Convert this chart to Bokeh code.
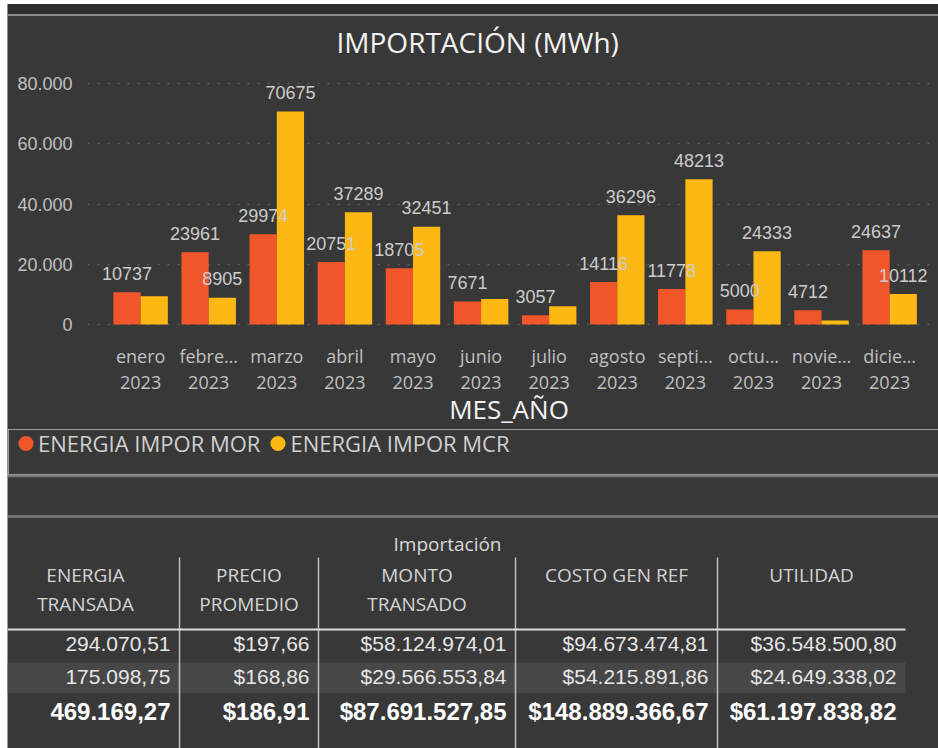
import numpy as np
from bokeh.plotting import figure
from bokeh.models import Range1d, FixedTicker, Legend, LegendItem, ColumnDataSource, Spacer
from bokeh.layouts import column, row
from bokeh.transform import dodge
from bokeh.core.properties import value
from bokeh.embed import file_html
from bokeh.resources import INLINE

# ---------------- data ----------------
months = ["enero", "febre\u2026", "marzo", "abril", "mayo", "junio", "julio",
          "agosto", "septi\u2026", "octu\u2026", "novie\u2026", "dicie\u2026"]
year = "2023"
mor = [10737, 23961, 29974, 20751, 18705, 7671, 3057, 14116, 11778, 5000, 4712, 24637]
mcr = [9400, 8905, 70675, 37289, 32451, 8500, 6050, 36296, 48213, 24333, 1300, 10112]
mor_label_shown = [True, True, True, True, True, True, True, True, True, True, True, True]
mcr_label_shown = [False, True, True, True, True, False, False, True, True, True, False, True]
y_ticks = [0, 20000, 40000, 60000, 80000]
y_tick_labels = ["0", "20.000", "40.000", "60.000", "80.000"]
series_names = ["ENERGIA IMPOR MOR", "ENERGIA IMPOR MCR"]
chart_title = "IMPORTACI\u00d3N (MWh)"
x_title = "MES_A\u00d1O"

table_group = "Importaci\u00f3n"
table_headers = ["ENERGIA\nTRANSADA", "PRECIO\nPROMEDIO", "MONTO\nTRANSADO", "COSTO GEN REF", "UTILIDAD"]
row1 = ["294.070,51", "$197,66", "$58.124.974,01", "$94.673.474,81", "$36.548.500,80"]
row2 = ["175.098,75", "$168,86", "$29.566.553,84", "$54.215.891,86", "$24.649.338,02"]
totals = ["469.169,27", "$186,91", "$87.691.527,85", "$148.889.366,67", "$61.197.838,82"]

# ---------------- style ----------------
BG = "#383838"
DARK = "#2d2d2d"
EDGE = "#8a8a8a"
C_MOR = "#F0562A"
C_MCR = "#FDB813"
PW = 930          # chart / legend width (x 8..938)
H1 = 425          # chart height (y 4..429)
HL = 45           # legend strip (y 429..474)
TW = 931          # table width (x 7..938)
H2 = 274          # table height (y 474..748)

n = len(months)
src = ColumnDataSource(dict(
    x=list(range(n)),
    mor=mor,
    mcr=mcr,
    mor_lbl=[str(v) if s else "" for v, s in zip(mor, mor_label_shown)],
    mcr_lbl=[str(v) if s else "" for v, s in zip(mcr, mcr_label_shown)],
))

top_bg = (f"linear-gradient(to bottom, {DARK} 0px, {DARK} 10px, {EDGE} 10px, "
          f"{EDGE} 12px, {BG} 12px, {BG} 100%)")
p = figure(width=PW, height=H1, output_backend="svg", toolbar_location=None,
           x_range=Range1d(-0.78, 11.6), y_range=Range1d(-3306, 82645),
           background_fill_color=BG, border_fill_color=None,
           min_border_left=79, min_border_right=8, min_border_top=71,
           min_border_bottom=94, title=chart_title,
           styles={"background": top_bg})
p.outline_line_color = None
p.title.align = "left"
p.title.offset = 249
p.title.standoff = 30
p.title.text_font = "Open Sans"
p.title.text_font_size = "28px"
p.title.text_font_style = "normal"
p.title.text_color = "#f2f2f2"

p.yaxis.ticker = FixedTicker(ticks=y_ticks)
p.yaxis.major_label_overrides = dict(zip(y_ticks, y_tick_labels))
p.yaxis.axis_line_color = None
p.yaxis.major_tick_line_color = None
p.yaxis.minor_tick_line_color = None
p.yaxis.major_tick_out = 0
p.yaxis.major_tick_in = 0
p.yaxis.major_label_standoff = 15
p.yaxis.major_label_text_font = "Liberation Sans"
p.yaxis.major_label_text_font_size = "18px"
p.yaxis.major_label_text_color = "#c0c0c0"

p.xaxis.ticker = FixedTicker(ticks=list(range(n)))
p.xaxis.major_label_overrides = {i: f"{m}\n{year}" for i, m in enumerate(months)}
p.xaxis.axis_line_color = None
p.xaxis.major_tick_line_color = None
p.xaxis.minor_tick_line_color = None
p.xaxis.major_tick_out = 0
p.xaxis.major_tick_in = 0
p.xaxis.major_label_standoff = 9
p.xaxis.major_label_text_font = "Open Sans"
p.xaxis.major_label_text_font_size = "18px"
p.xaxis.major_label_text_line_height = 1.1
p.xaxis.major_label_text_color = "#c0c0c0"
p.xaxis.axis_label = x_title
p.xaxis.axis_label_standoff = -6
p.xaxis.axis_label_text_font = "Open Sans"
p.xaxis.axis_label_text_font_size = "26px"
p.xaxis.axis_label_text_font_style = "normal"
p.xaxis.axis_label_text_color = "#f2f2f2"

p.xgrid.visible = False
p.ygrid.ticker = FixedTicker(ticks=y_ticks)
p.ygrid.grid_line_color = "#5e5e5e"
p.ygrid.grid_line_dash = "2 8"
p.ygrid.grid_line_width = 1.5

p.vbar(x=dodge("x", -0.2), top="mor", width=0.4, source=src,
       fill_color=C_MOR, line_color=None)
p.vbar(x=dodge("x", 0.2), top="mcr", width=0.4, source=src,
       fill_color=C_MCR, line_color=None)

lbl_kw = dict(source=src, text_align="center", text_baseline="middle", y_offset=-19,
              text_font=value("Liberation Sans"), text_font_size="18px", text_color="#cccccc")
p.text(x=dodge("x", -0.2), y="mor", text="mor_lbl", **lbl_kw)
p.text(x=dodge("x", 0.2), y="mcr", text="mcr_lbl", **lbl_kw)

# ---------------- legend strip ----------------
lg = figure(width=PW, height=HL, output_backend="svg", toolbar_location=None,
            x_range=Range1d(0, 1), y_range=Range1d(0, 1),
            x_axis_type=None, y_axis_type=None,
            background_fill_color=BG, border_fill_color=BG, min_border=0)
lg.outline_line_color = None
lg.grid.visible = False
dot_kw = dict(x="x", y="y", width=15, height=15, width_units="screen", height_units="screen",
              line_color=None)
r1 = lg.ellipse(source=ColumnDataSource(dict(x=np.array([np.nan]), y=np.array([np.nan]))),
                fill_color=C_MOR, **dot_kw)
r2 = lg.ellipse(source=ColumnDataSource(dict(x=np.array([np.nan]), y=np.array([np.nan]))),
                fill_color=C_MCR, **dot_kw)
legend = Legend(items=[LegendItem(label=series_names[0], renderers=[r1]),
                       LegendItem(label=series_names[1], renderers=[r2])],
                orientation="horizontal", location=(8, 15),
                glyph_width=19, glyph_height=32, label_height=32, label_standoff=3, spacing=8,
                padding=0, margin=0, border_line_color=None, background_fill_alpha=0,
                label_text_font="Open Sans", label_text_font_size="22px",
                label_text_color="#d0d0d0")
lg.add_layout(legend)

# ---------------- table ----------------
t = figure(width=TW, height=H2, output_backend="svg", toolbar_location=None,
           x_range=Range1d(0, TW), y_range=Range1d(H2, 0),
           x_axis_type=None, y_axis_type=None,
           background_fill_color=BG, border_fill_color=BG, min_border=0)
t.outline_line_color = None
t.grid.visible = False

col_edges = [-16, 172, 311, 508, 710, 898]
centers = [(a + b) / 2 for a, b in zip(col_edges[:-1], col_edges[1:])]
rights = [e - 9 for e in col_edges[1:]]

t.segment(x0=[0, 0], x1=[TW, TW], y0=[1.5, 42], y1=[1.5, 42], line_color="#7a7a7a", line_width=2.5)
t.quad(left=[0], right=[col_edges[-1]], top=[188], bottom=[219], fill_color="#474747", line_color=None)
t.segment(x0=col_edges[1:5], x1=col_edges[1:5], y0=[83] * 4, y1=[H2] * 4,
          line_color="#bdbdbd", line_width=1.5)
t.segment(x0=[0], x1=[col_edges[-1]], y0=[155], y1=[155], line_color="#dcdcdc", line_width=2)

t.text(x=[440], y=[69], text=[table_group], text_align="center", text_baseline="middle",
       text_font=value("Open Sans"), text_font_size="19px", text_color="#d8d8d8")
t.text(x=centers, y=[87.5] * 5, text=table_headers, text_align="center", text_baseline="top",
       text_line_height=1.1, text_font=value("Open Sans"), text_font_size="19px",
       text_color="#d4d4d4")
row_kw = dict(text_align="right", text_baseline="middle", text_font=value("Liberation Sans"))
t.text(x=rights, y=[169] * 5, text=row1, text_font_size="21px", text_color="#e6e6e6", **row_kw)
t.text(x=rights, y=[202] * 5, text=row2, text_font_size="21px", text_color="#e6e6e6", **row_kw)
t.text(x=rights, y=[237] * 5, text=totals, text_font_size="24px", text_font_style="bold",
       text_color="#ffffff", **row_kw)

# ---------------- page frame ----------------
def band(w, h, color):
    return Spacer(width=w, height=h, styles={"background-color": color})

layout = column(
    Spacer(width=938, height=4),
    row(Spacer(width=7, height=H1), band(1, H1, EDGE), p, spacing=0),
    row(Spacer(width=7, height=HL), band(1, HL, EDGE), lg, spacing=0),
    row(Spacer(width=7, height=H2), t, spacing=0),
    spacing=0,
)
open("out.html", "w").write(file_html(layout, INLINE))
